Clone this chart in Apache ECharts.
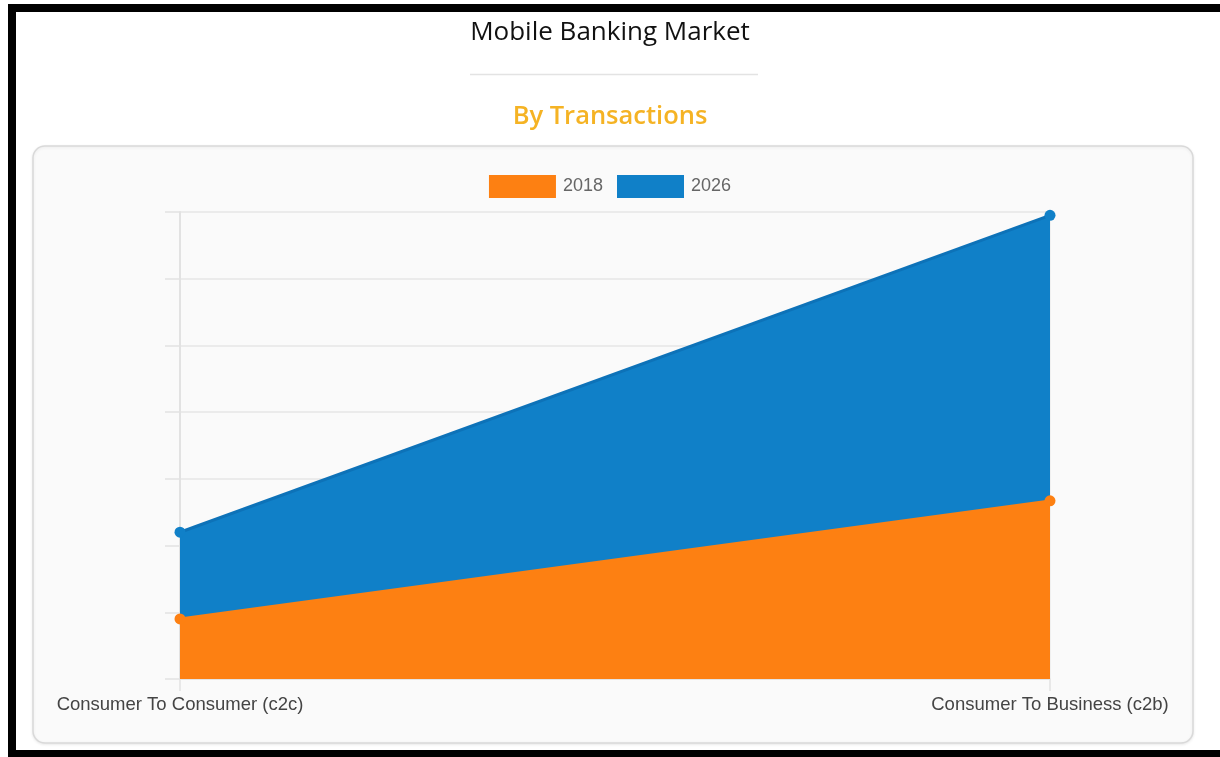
<!DOCTYPE html>
<html>
<head>
<meta charset="utf-8">
<script src="https://cdn.jsdelivr.net/npm/echarts@6/dist/echarts.min.js"></script>
<style>
html,body{margin:0;padding:0;background:#fff;}
#chart{width:1220px;height:757px;}
</style>
</head>
<body>
<div id="chart"></div>
<script>
const categories = ['Consumer To Consumer (c2c)', 'Consumer To Business (c2b)'];
const seriesNames = ['2018', '2026'];
const values2018 = [0.9, 2.67];
const values2026 = [2.2, 6.95];
const yTicks = [0, 1, 2, 3, 4, 5, 6, 7];

const chart = echarts.init(document.getElementById('chart'), null, {renderer: 'canvas'});
const option = {
  animation: false,
  backgroundColor: '#ffffff',
  graphic: [
    {type: 'rect', z: -10, shape: {x: 33, y: 146, width: 1160, height: 597, r: 12},
     style: {fill: '#fafafa', stroke: '#d9d9d9', lineWidth: 1.5,
       shadowBlur: 3, shadowColor: 'rgba(0,0,0,0.08)', shadowOffsetY: 1}},
    {type: 'line', z: -10, shape: {x1: 470, y1: 74.5, x2: 758, y2: 74.5},
     style: {stroke: '#e3e3e3', lineWidth: 1.5}},
    {type: 'rect', z: 100, shape: {x: 8, y: 4, width: 8, height: 753}, style: {fill: '#000'}},
    {type: 'rect', z: 100, shape: {x: 8, y: 4, width: 1212, height: 8}, style: {fill: '#000'}},
    {type: 'rect', z: 100, shape: {x: 8, y: 750, width: 1212, height: 7}, style: {fill: '#000'}}
  ],
  title: [
    {text: 'Mobile Banking Market', left: 'center', top: 15,
     textStyle: {fontFamily: 'Open Sans', fontSize: 26, fontWeight: 500, color: '#111'}},
    {text: 'By Transactions', left: 'center', top: 99,
     textStyle: {fontFamily: 'Open Sans', fontSize: 25.5, fontWeight: 600, color: '#f5b324'}}
  ],
  legend: {
    top: 170, left: 'center',
    itemWidth: 67, itemHeight: 23, itemGap: 14,
    icon: 'rect',
    textStyle: {fontFamily: 'Liberation Sans', fontSize: 18, color: '#666', padding: [0, 0, 0, 2]},
    data: seriesNames
  },
  grid: {left: 180, right: 170, top: 212, bottom: 78, containLabel: false},
  xAxis: {
    type: 'category', boundaryGap: false, data: categories,
    axisLine: {show: true, lineStyle: {color: '#e2e2e2', width: 1.5}},
    axisTick: {show: true, length: 12, lineStyle: {color: '#e2e2e2', width: 1.5}},
    axisLabel: {margin: 16, fontFamily: 'Liberation Sans', fontSize: 18.5, color: '#444'},
    splitLine: {show: true, lineStyle: {color: '#ececec', width: 1.5}}
  },
  yAxis: {
    type: 'value', min: 0, max: 7, interval: 1,
    axisLine: {show: true, lineStyle: {color: '#e2e2e2', width: 2}},
    axisTick: {show: true, length: 15, lineStyle: {color: '#e2e2e2', width: 1.5}},
    axisLabel: {show: false},
    splitLine: {show: true, lineStyle: {color: '#e6e6e6', width: 1.5}}
  },
  series: [
    {name: '2018', type: 'line', data: values2018, z: 4,
     symbol: 'circle', symbolSize: 11, showSymbol: true,
     itemStyle: {color: '#fd8012'},
     lineStyle: {color: '#fd8012', width: 3},
     areaStyle: {color: '#fd8012', opacity: 1}},
    {name: '2026', type: 'line', data: values2026, z: 3,
     symbol: 'circle', symbolSize: 11, showSymbol: true,
     itemStyle: {color: '#1080c8'},
     lineStyle: {color: '#0d72b8', width: 3},
     areaStyle: {color: '#1080c8', opacity: 1}}
  ]
};
chart.setOption(option);
</script>
</body>
</html>
